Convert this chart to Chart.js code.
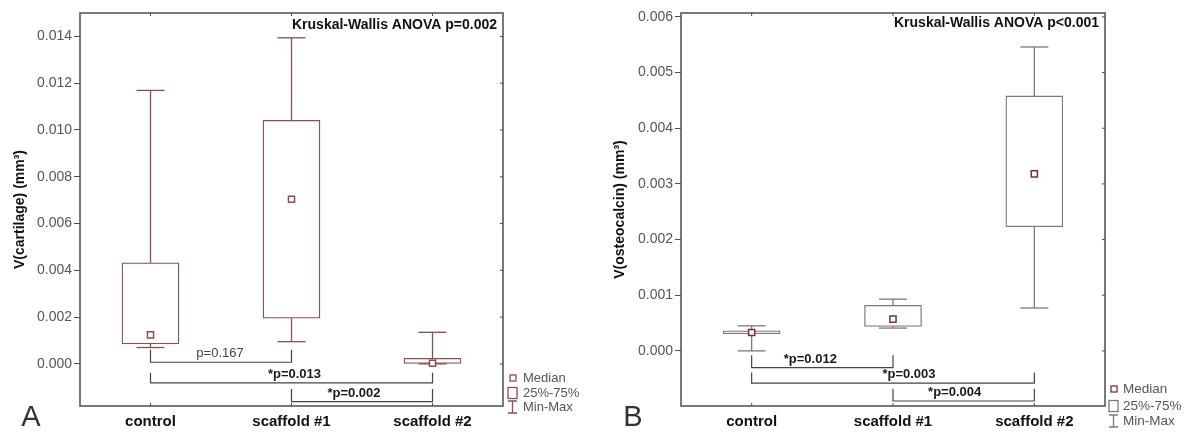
<!DOCTYPE html>
<html>
<head>
<meta charset="utf-8">
<script src="https://cdn.jsdelivr.net/npm/chart.js@4.4.0/dist/chart.umd.min.js"></script>
<style>
body { margin: 0; background: #fff; }
#wrapA { position: absolute; left: 0; top: 0; width: 600px; height: 432px; }
#wrapB { position: absolute; left: 600px; top: 0; width: 586px; height: 432px; }
</style>
</head>
<body>
<div id="wrapA"><canvas id="chartA" width="600" height="432"></canvas></div>
<div id="wrapB"><canvas id="chartB" width="586" height="432"></canvas></div>
<script>
const groups = ['control', 'scaffold #1', 'scaffold #2'];

// panel A - cartilage volume (mm3)
const cartMin    = [0.00070, 0.00095, 0.00000];
const cartQ1     = [0.00085, 0.00195, 0.00000];
const cartMedian = [0.00124, 0.00704, 0.00003];
const cartQ3     = [0.00432, 0.01041, 0.00024];
const cartMax    = [0.01169, 0.01394, 0.00135];
const cartTicks  = [0.000, 0.002, 0.004, 0.006, 0.008, 0.010, 0.012, 0.014];
const cartPairFrom  = [0, 0, 1];
const cartPairTo    = [1, 2, 2];
const cartPairLevel = [0.00007, -0.00081, -0.00161];
const cartPairTop   = [0.00060, -0.00038, -0.00107];
const cartPairText  = ['p=0.167', '*p=0.013', '*p=0.002'];

// panel B - osteocalcin volume (mm3)
const osteoMin    = [0.00000, 0.00041, 0.00077];
const osteoQ1     = [0.00031, 0.00044, 0.00223];
const osteoMedian = [0.00033, 0.00057, 0.00318];
const osteoQ3     = [0.00036, 0.00082, 0.00458];
const osteoMax    = [0.00045, 0.00093, 0.00546];
const osteoTicks  = [0.000, 0.001, 0.002, 0.003, 0.004, 0.005, 0.006];
const osteoPairFrom  = [0, 0, 1];
const osteoPairTo    = [1, 2, 2];
const osteoPairLevel = [-0.00030, -0.00058, -0.00090];
const osteoPairTop   = [-0.00008, -0.00039, -0.00068];
const osteoPairText  = ['*p=0.012', '*p=0.003', '*p=0.004'];

const FONT = '"Liberation Sans", Arial, sans-serif';
Chart.defaults.font.family = FONT;

function makePanel(id, p) {
  const extras = {
    id: 'extras',
    beforeDatasetsDraw(chart) {
      const { ctx, scales: { x, y } } = chart;
      ctx.save();
      ctx.strokeStyle = p.boxColor;
      ctx.lineWidth = 1.3;
      p.min.forEach((mn, i) => {
        const px = x.getPixelForValue(i);
        const line = (x1, y1, x2, y2) => { ctx.beginPath(); ctx.moveTo(x1, y1); ctx.lineTo(x2, y2); ctx.stroke(); };
        line(px, y.getPixelForValue(mn), px, y.getPixelForValue(p.q1[i]));
        line(px, y.getPixelForValue(p.q3[i]), px, y.getPixelForValue(p.max[i]));
        [mn, p.max[i]].forEach(v => {
          const py = y.getPixelForValue(v);
          line(px - 14, py, px + 14, py);
        });
      });
      ctx.restore();
    },
    afterDraw(chart) {
      const { ctx, chartArea: a, scales: { x, y } } = chart;
      ctx.save();
      // frame
      ctx.strokeStyle = '#4d4d4d';
      ctx.lineWidth = 1.5;
      ctx.strokeRect(a.left, a.top, a.right - a.left, a.bottom - a.top);
      ctx.lineWidth = 1;
      groups.forEach((g, i) => {
        const px = x.getPixelForValue(i);
        ctx.beginPath();
        ctx.moveTo(px, a.top); ctx.lineTo(px, a.top + 3);
        ctx.moveTo(px, a.bottom); ctx.lineTo(px, a.bottom - 3);
        ctx.stroke();
      });
      p.ticks.forEach(v => {
        const py = y.getPixelForValue(v);
        ctx.beginPath(); ctx.moveTo(a.right, py); ctx.lineTo(a.right - 3, py); ctx.stroke();
      });
      // comparison brackets
      ctx.strokeStyle = '#444';
      ctx.lineWidth = 1.2;
      p.pairFrom.forEach((f, k) => {
        const x1 = x.getPixelForValue(f), x2 = x.getPixelForValue(p.pairTo[k]);
        const yl = y.getPixelForValue(p.pairLevel[k]), yt = y.getPixelForValue(p.pairTop[k]);
        ctx.beginPath();
        ctx.moveTo(x1, yt); ctx.lineTo(x1, yl); ctx.lineTo(x2, yl); ctx.lineTo(x2, yt);
        ctx.stroke();
        const txt = p.pairText[k];
        const sig = txt.startsWith('*');
        ctx.font = (sig ? 'bold ' : '') + '13px ' + FONT;
        ctx.fillStyle = sig ? '#1a1a1a' : '#444';
        ctx.textAlign = 'center';
        ctx.textBaseline = 'alphabetic';
        ctx.fillText(txt, (x1 + x2) / 2 + p.labelDx[k], yl - 5);
      });
      // test result
      ctx.font = 'bold 14px ' + FONT;
      ctx.fillStyle = '#111';
      ctx.textAlign = 'right';
      ctx.textBaseline = 'middle';
      ctx.fillText(p.anova, a.right - 6, a.top + p.anovaDy);
      // panel letter
      ctx.font = '29px ' + FONT;
      ctx.fillStyle = '#333';
      ctx.textAlign = 'center';
      ctx.fillText(p.letter, p.letterX, 418);
      // legend
      const L = p.legend;
      const lx = a.right + L.dx;
      ctx.font = L.size + 'px ' + FONT;
      ctx.fillStyle = '#555';
      ctx.textAlign = 'left';
      ctx.textBaseline = 'middle';
      ctx.fillText('Median', lx + L.textDx, L.rows[0]);
      ctx.fillText('25%-75%', lx + L.textDx, L.rows[1]);
      ctx.fillText('Min-Max', lx + L.textDx, L.rows[2]);
      ctx.lineWidth = 1.3;
      ctx.strokeStyle = p.medianColor;
      ctx.strokeRect(lx + 2, L.rows[0] - 3, 6, 6);
      ctx.strokeStyle = p.boxColor;
      ctx.strokeRect(lx, L.rows[1] - 5.5, 9, 11);
      const iy = L.rows[2];
      ctx.beginPath();
      ctx.moveTo(lx, iy - 6); ctx.lineTo(lx + 9, iy - 6);
      ctx.moveTo(lx + 4.5, iy - 6); ctx.lineTo(lx + 4.5, iy + 6);
      ctx.moveTo(lx, iy + 6); ctx.lineTo(lx + 9, iy + 6);
      ctx.stroke();
      ctx.restore();
    }
  };

  return new Chart(document.getElementById(id), {
    data: {
      labels: groups,
      datasets: [
        {
          type: 'bar',
          data: p.q1.map((v, i) => [v, p.q3[i]]),
          backgroundColor: '#fff',
          borderColor: p.boxColor,
          borderWidth: 1.3,
          borderSkipped: false,
          barThickness: 57,
          order: 2
        },
        {
          type: 'line',
          data: p.median,
          showLine: false,
          pointStyle: 'rect',
          pointRadius: 4.3,
          pointBorderWidth: 1.5,
          pointBackgroundColor: '#fff',
          pointBorderColor: p.medianColor,
          order: 1
        }
      ]
    },
    options: {
      responsive: false,
      animation: false,
      events: [],
      layout: { padding: { left: 0, right: p.padRight, top: 13, bottom: 0 } },
      plugins: { legend: { display: false }, tooltip: { enabled: false } },
      scales: {
        x: {
          type: 'category',
          offset: true,
          grid: { display: false, drawTicks: false },
          border: { display: false },
          ticks: { color: '#111', padding: 7, font: { size: 15, weight: 'bold' } },
          afterFit: s => { s.height = 26; }
        },
        y: {
          min: p.yMin,
          max: p.yMax,
          grid: { drawOnChartArea: false, drawTicks: true, tickLength: 6, color: '#4d4d4d' },
          border: { display: false },
          ticks: { color: '#555', padding: 2, font: { size: 14 }, callback: v => v.toFixed(3) },
          afterBuildTicks: s => { s.ticks = p.ticks.map(v => ({ value: v })); },
          title: { display: true, text: p.yTitle, color: '#111', font: { size: 14, weight: 'bold' }, padding: { top: 12, bottom: 0 } },
          afterFit: s => { s.width = p.axisWidth; }
        }
      }
    },
    plugins: [extras]
  });
}

makePanel('chartA', {
  min: cartMin, q1: cartQ1, median: cartMedian, q3: cartQ3, max: cartMax, ticks: cartTicks,
  pairFrom: cartPairFrom, pairTo: cartPairTo, pairLevel: cartPairLevel, pairTop: cartPairTop, pairText: cartPairText,
  labelDx: [-1, 3, -8],
  yMin: -0.0018, yMax: 0.0150,
  yTitle: 'V(cartilage) (mm³)',
  anova: 'Kruskal-Wallis ANOVA p=0.002', anovaDy: 12,
  letter: 'A', letterX: 31,
  boxColor: '#8a4f4f', medianColor: '#8a4f4f',
  axisWidth: 80, padRight: 97,
  legend: { dx: 5, textDx: 15, size: 13, rows: [378, 393, 407] }
});

makePanel('chartB', {
  min: osteoMin, q1: osteoQ1, median: osteoMedian, q3: osteoQ3, max: osteoMax, ticks: osteoTicks,
  pairFrom: osteoPairFrom, pairTo: osteoPairTo, pairLevel: osteoPairLevel, pairTop: osteoPairTop, pairText: osteoPairText,
  labelDx: [-12, 16, -9],
  yMin: -0.00099, yMax: 0.00607,
  yTitle: 'V(osteocalcin) (mm³)',
  anova: 'Kruskal-Wallis ANOVA p<0.001', anovaDy: 10,
  letter: 'B', letterX: 33,
  boxColor: '#7a7a7a', medianColor: '#7a3030',
  axisWidth: 81, padRight: 81,
  legend: { dx: 4, textDx: 14, size: 13.5, rows: [389, 406, 421] }
});
</script>
</body>
</html>
